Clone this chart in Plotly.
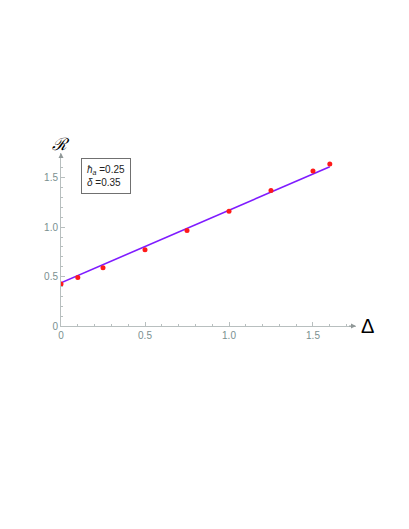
import plotly.graph_objects as go

# data points (Delta, R)
delta = [0, 0.1, 0.25, 0.5, 0.75, 1.0, 1.25, 1.5, 1.6]
r_vals = [0.426, 0.491, 0.589, 0.772, 0.965, 1.161, 1.371, 1.568, 1.639]

# fitted line endpoints
fit_x = [0, 1.6]
fit_y = [0.437, 1.611]

tick_vals = [0, 0.5, 1.0, 1.5]
tick_text = ["0", "0.5", "1.0", "1.5"]

axis_col = "#b8bfbf"
tick_col = "#7a9090"

fig = go.Figure()
fig.add_trace(go.Scatter(x=fit_x, y=fit_y, mode="lines",
                         line=dict(color="#7f1cff", width=1.6), showlegend=False))
fig.add_trace(go.Scatter(x=delta, y=r_vals, mode="markers",
                         marker=dict(color="#ff1a1a", size=5), showlegend=False))

xr = [0, 1.756]
yr = [0, 1.75]

common = dict(showgrid=False, zeroline=False, showline=True, linecolor=axis_col,
              linewidth=1, ticks="inside", ticklen=4, tickcolor=axis_col,
              tickvals=tick_vals, ticktext=tick_text, automargin=False,
              tickfont=dict(family="Liberation Sans, Arial", size=10, color=tick_col),
              minor=dict(ticks="inside", ticklen=2, tickcolor=axis_col, dtick=0.1))

fig.update_xaxes(range=xr, **common)
fig.update_yaxes(range=yr, **common)

# axis arrows
fig.add_annotation(x=xr[1], y=0, ax=xr[1] - 0.05, ay=0, xref="x", yref="y",
                   axref="x", ayref="y", text="", showarrow=True, arrowhead=2,
                   arrowsize=1, arrowwidth=1, arrowcolor="#909898")
fig.add_annotation(x=0, y=yr[1], ax=0, ay=yr[1] - 0.06, xref="x", yref="y",
                   axref="x", ayref="y", text="", showarrow=True, arrowhead=2,
                   arrowsize=1, arrowwidth=1, arrowcolor="#909898")

# axis labels
fig.add_annotation(x=1.01, y=0.0, xref="paper", yref="paper", text="Δ", showarrow=False,
                   xanchor="left", yanchor="middle",
                   font=dict(family="Liberation Sans", size=20, color="black"))
fig.add_annotation(x=0.0, y=1.05, xref="paper", yref="paper", text="<i>ℛ</i>",
                   showarrow=False, xanchor="center", yanchor="middle",
                   font=dict(family="DejaVu Serif", size=17, color="black"))

# parameter box
fig.add_annotation(x=0.27, y=1.515, xref="x", yref="y",
                   text="<i>ħ</i><sub><i>a</i></sub> =0.25<br><i>δ</i> =0.35",
                   showarrow=False, align="left", bordercolor="#707070", borderwidth=1,
                   borderpad=5, bgcolor="white",
                   font=dict(family="Liberation Sans, Arial", size=10, color="#222222"))

# page body has an 8px margin, so the figure is a little smaller than the window
fig.update_layout(width=401, height=521, plot_bgcolor="white", paper_bgcolor="white",
                  margin=dict(l=53, r=53, t=145, b=203))

fig.write_html("out.html")
